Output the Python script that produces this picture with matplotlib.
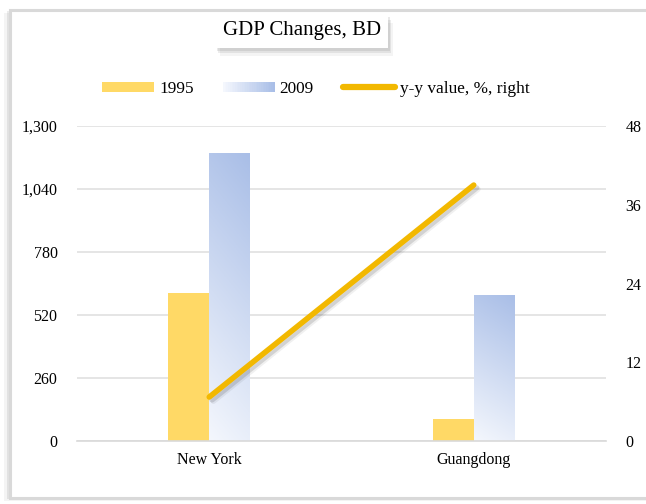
import numpy as np
import matplotlib
matplotlib.use('Agg')
import matplotlib.pyplot as plt
import matplotlib.patheffects as pe
from matplotlib.patches import Rectangle, Patch
from matplotlib.lines import Line2D
from matplotlib.legend_handler import HandlerBase
from matplotlib.colors import LinearSegmentedColormap

plt.rcParams['font.family'] = ['Liberation Serif', 'DejaVu Serif']

# 数据
regions = ['New York', 'Guangdong']
gdp_1995 = [610, 92]
gdp_2009 = [1188, 603]
yy_value = [6.7, 39.0]
left_ticks = [0, 260, 520, 780, 1040, 1300]
right_ticks = [0, 12, 24, 36, 48]

yellow = '#FFD966'
line_col = '#F2B800'
blue_top = '#A9BEE7'
blue_cmap = LinearSegmentedColormap.from_list('bl', ['#F4F7FD', blue_top])

fig = plt.figure(figsize=(6.46, 5.04), dpi=100, facecolor='white')

# 外框
frame = Rectangle((10 / 646, 6 / 504), 1.2, 488 / 504, transform=fig.transFigure,
                  facecolor='white', edgecolor='#D9D9D9', linewidth=2.2, zorder=-5,
                  path_effects=[pe.SimplePatchShadow(offset=(-2, -1), alpha=0.1),
                                pe.SimplePatchShadow(offset=(-4, -2), alpha=0.06), pe.Normal()])
fig.patches.append(frame)

ax = fig.add_axes([77 / 646, 63 / 504, 529 / 646, 315 / 504])
ax.set_facecolor('none')
x = np.arange(len(regions))
w = 0.155

b1 = ax.bar(x - w / 2, gdp_1995, w, color=yellow, zorder=2,
            path_effects=[pe.SimplePatchShadow(offset=(1.5, -1.5), alpha=0.12), pe.Normal()])
b2 = ax.bar(x + w / 2, gdp_2009, w, color='none', zorder=2)

# 2009 渐变填充
yy, xx = np.mgrid[0:1:100j, 0:1:100j]
grad = np.clip(0.85 * yy + 0.15 * xx, 0, 1)
for bar in b2:
    bx, by = bar.get_x(), bar.get_y()
    bw, bh = bar.get_width(), bar.get_height()
    im = ax.imshow(grad, cmap=blue_cmap, origin='lower', aspect='auto',
                   extent=[bx, bx + bw, by, by + bh], zorder=2)
    im.set_clip_path(bar)

ax.set_xlim(-0.5, 1.5)
ax.set_ylim(0, 1300)
ax.set_yticks(left_ticks)
ax.set_yticklabels([f'{v:,}' for v in left_ticks])
ax.set_xticks(x)
ax.set_xticklabels(regions, fontsize=13)
ax.tick_params(length=0, labelsize=11.5, pad=14)
ax.tick_params(axis='x', pad=8)
ax.grid(axis='y', color='#E0E0E0', linewidth=1.2, zorder=0)
for s in ax.spines.values():
    s.set_visible(False)
ax.spines['bottom'].set_visible(True)
ax.spines['bottom'].set_color('#D9D9D9')
ax.spines['bottom'].set_linewidth(1.2)

ax2 = ax.twinx()
ax2.plot(x, yy_value, color=line_col, linewidth=4, solid_capstyle='round', zorder=3,
         path_effects=[pe.SimpleLineShadow(offset=(2, -2), alpha=0.12),
                       pe.SimpleLineShadow(offset=(3, -3), alpha=0.06), pe.Normal()])
ax2.set_ylim(0, 48)
ax2.set_yticks(right_ticks)
ax2.tick_params(length=0, labelsize=11.5, pad=14)
for s in ax2.spines.values():
    s.set_visible(False)


class GradHandler(HandlerBase):
    def create_artists(self, legend, orig_handle, xdescent, ydescent, width, height, fontsize, trans):
        arts = []
        n = 30
        h = height * 0.75
        y0 = -ydescent + (height - h) / 2
        for i in range(n):
            c = blue_cmap(i / (n - 1))
            r = Rectangle((-xdescent + width * i / n, y0), width / n + 0.3, h,
                          facecolor=c, edgecolor='none', transform=trans)
            arts.append(r)
        return arts


class BarHandler(HandlerBase):
    def create_artists(self, legend, orig_handle, xdescent, ydescent, width, height, fontsize, trans):
        h = height * 0.75
        r = Rectangle((-xdescent, -ydescent + (height - h) / 2), width, h,
                      facecolor=yellow, edgecolor='none', transform=trans)
        return [r]


h1 = Patch(color=yellow)
h2 = Patch(color=blue_top)
h3 = Line2D([], [], color=line_col, linewidth=4.5, solid_capstyle='round')
fig.legend([h1, h2, h3], ['1995', '2009', 'y-y value, %, right'],
           handler_map={h1: BarHandler(), h2: GradHandler()},
           loc='center', bbox_to_anchor=(316 / 646, 1 - 89 / 504), ncol=3, frameon=False,
           fontsize=12.4, handlelength=3.0, handletextpad=0.3, columnspacing=1.7)

# 标题框（柔和阴影）
fig.text(302 / 646, 1 - 31 / 504, 'GDP Changes, BD', ha='center', va='center', fontsize=15,
         bbox=dict(boxstyle='square,pad=0.35', facecolor='white', edgecolor='none',
                   path_effects=[pe.SimplePatchShadow(offset=(1, -2), alpha=0.12),
                                 pe.SimplePatchShadow(offset=(2, -4), alpha=0.1),
                                 pe.SimplePatchShadow(offset=(3, -6), alpha=0.06),
                                 pe.Normal()]))

fig.savefig('out.png', dpi=100)
